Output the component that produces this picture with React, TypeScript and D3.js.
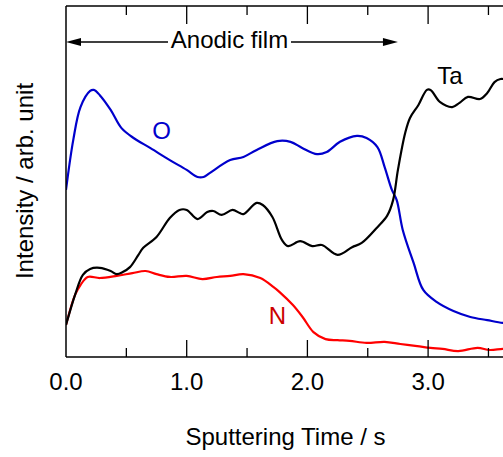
import React from "react";
import * as d3 from "d3";

const oTime = [0, 0.06, 0.12, 0.2, 0.23, 0.28, 0.37, 0.46, 0.56, 0.7, 0.86, 1.0, 1.09, 1.14, 1.19, 1.36, 1.47, 1.58, 1.75, 1.86, 1.96, 2.08, 2.16, 2.27, 2.41, 2.49, 2.58, 2.64, 2.7, 2.74, 2.79, 2.88, 2.96, 3.07, 3.21, 3.35, 3.49, 3.62, 3.7];
const oValues = [47.6, 61.8, 71.2, 75.8, 76.1, 74.6, 70.4, 65.2, 62.4, 59.5, 56.1, 53.3, 51.3, 51.3, 52.4, 56.1, 57.0, 59.0, 61.5, 61.3, 59.5, 57.8, 58.4, 61.3, 63.0, 62.4, 59.8, 54.1, 47.6, 44.7, 36.2, 26.8, 19.1, 15.7, 13.1, 11.4, 10.5, 9.7, 9.4];

const taTime = [0, 0.075, 0.14, 0.2, 0.28, 0.37, 0.42, 0.47, 0.53, 0.6, 0.64, 0.75, 0.86, 0.94, 1.0, 1.09, 1.17, 1.22, 1.29, 1.38, 1.44, 1.47, 1.58, 1.63, 1.71, 1.79, 1.84, 1.94, 2.04, 2.12, 2.25, 2.37, 2.45, 2.58, 2.66, 2.71, 2.75, 2.81, 2.85, 2.92, 2.99, 3.02, 3.1, 3.2, 3.26, 3.33, 3.43, 3.49, 3.55, 3.6, 3.62, 3.7];
const taValues = [9.1, 17.7, 23.4, 25.1, 25.4, 24.5, 23.6, 24.2, 25.6, 29.1, 31.1, 34.2, 39.6, 41.9, 41.9, 39.3, 41.3, 41.6, 40.5, 41.9, 41.0, 40.7, 43.9, 43.3, 39.9, 33.3, 31.6, 33.0, 31.6, 31.9, 29.1, 31.3, 32.5, 37.0, 40.2, 44.7, 53.3, 63.8, 68.1, 71.8, 76.1, 76.1, 72.6, 71.2, 72.4, 74.1, 73.5, 75.2, 78.3, 79.2, 79.2, 79.0];

const nTime = [0, 0.075, 0.12, 0.18, 0.28, 0.42, 0.55, 0.66, 0.75, 0.86, 1.0, 1.13, 1.25, 1.36, 1.47, 1.61, 1.72, 1.77, 1.88, 1.96, 2.05, 2.15, 2.25, 2.35, 2.49, 2.64, 2.77, 2.91, 3.02, 3.12, 3.25, 3.41, 3.51, 3.62, 3.7];
const nValues = [9.1, 17.7, 20.5, 22.8, 22.5, 23.1, 23.9, 24.5, 23.6, 22.8, 23.1, 22.2, 22.8, 23.1, 23.6, 22.5, 19.9, 18.5, 14.8, 11.4, 7.1, 5.1, 4.8, 4.6, 4.0, 4.3, 3.7, 3.1, 2.6, 2.3, 1.7, 2.6, 2.0, 2.3, 2.2];

const majorTicks = [1, 2, 3, 4];
const minorTicks = [0.5, 1.5, 2.5, 3.5];
const tickLabels = [0, 1, 2, 3];

const W = 503;
const H = 457;
const left = 66;
const top = 6;
const bottom = 357;
const FONT = "'Liberation Sans', Arial, Helvetica, sans-serif";

export default function App() {
  const x = d3.scaleLinear().domain([0, 4]).range([left, left + 4 * 120.7]);
  const y = d3.scaleLinear().domain([0, 100]).range([bottom, top]);
  const line = d3
    .line<[number, number]>()
    .x((d) => x(d[0]))
    .y((d) => y(d[1]))
    .curve(d3.curveCatmullRom.alpha(0.5));

  const series = [
    { t: nTime, v: nValues, color: "#ff0000" },
    { t: oTime, v: oValues, color: "#0000cc" },
    { t: taTime, v: taValues, color: "#000000" },
  ];

  const xr = x(4);
  const arrowY = 42;
  const arrowEnd = x(2.75);

  return (
    <svg width={W} height={H} style={{ position: "absolute", left: 0, top: 0, background: "#fff" }} fontFamily={FONT}>
      <defs>
        <clipPath id="plot">
          <rect x={left} y={top} width={xr - left} height={bottom - top} />
        </clipPath>
      </defs>
      <g clipPath="url(#plot)">
        {series.map((s, i) => (
          <path
            key={i}
            d={line(s.t.map((t, j) => [t, s.v[j]] as [number, number])) || ""}
            fill="none"
            stroke={s.color}
            strokeWidth={2.2}
            strokeLinejoin="round"
          />
        ))}
      </g>
      {/* frame */}
      <line x1={left} x2={xr} y1={top} y2={top} stroke="#000" strokeWidth={1.5} />
      <line x1={left} x2={xr} y1={bottom} y2={bottom} stroke="#000" strokeWidth={1.5} />
      <line x1={left} x2={left} y1={top} y2={bottom} stroke="#000" strokeWidth={1.5} />
      {/* ticks */}
      {majorTicks.map((t) => (
        <g key={"M" + t}>
          <line x1={x(t)} x2={x(t)} y1={top} y2={top + 18} stroke="#000" strokeWidth={1.3} />
          <line x1={x(t)} x2={x(t)} y1={bottom} y2={bottom - 17} stroke="#000" strokeWidth={1.3} />
        </g>
      ))}
      {minorTicks.map((t) => (
        <g key={"m" + t}>
          <line x1={x(t)} x2={x(t)} y1={top} y2={top + 9} stroke="#000" strokeWidth={1.3} />
          <line x1={x(t)} x2={x(t)} y1={bottom} y2={bottom - 9} stroke="#000" strokeWidth={1.3} />
        </g>
      ))}
      {tickLabels.map((t) => (
        <text key={"l" + t} x={x(t)} y={390} fontSize={24} textAnchor="middle" fill="#000">
          {d3.format(".1f")(t)}
        </text>
      ))}
      {/* axis titles */}
      <text x={285.5} y={445} fontSize={24} textAnchor="middle" fill="#000">
        Sputtering Time / s
      </text>
      <text transform="translate(33,181) rotate(-90)" fontSize={24} textAnchor="middle" fill="#000">
        Intensity / arb. unit
      </text>
      {/* anodic film arrow */}
      <line x1={left + 12} x2={168} y1={arrowY} y2={arrowY} stroke="#000" strokeWidth={1.5} />
      <line x1={291} x2={arrowEnd - 12} y1={arrowY} y2={arrowY} stroke="#000" strokeWidth={1.5} />
      <path d={`M${left},${arrowY} L${left + 15},${arrowY - 4} L${left + 15},${arrowY + 4} Z`} fill="#000" />
      <path d={`M${arrowEnd},${arrowY} L${arrowEnd - 15},${arrowY - 4} L${arrowEnd - 15},${arrowY + 4} Z`} fill="#000" />
      <text x={229.5} y={48} fontSize={24} textAnchor="middle" fill="#000">
        Anodic film
      </text>
      {/* series labels */}
      <text x={161.5} y={139} fontSize={24} textAnchor="middle" fill="#0000cc">O</text>
      <text x={450} y={84} fontSize={24} textAnchor="middle" fill="#000">Ta</text>
      <text x={277.5} y={324} fontSize={24} textAnchor="middle" fill="#cc0000">N</text>
    </svg>
  );
}
